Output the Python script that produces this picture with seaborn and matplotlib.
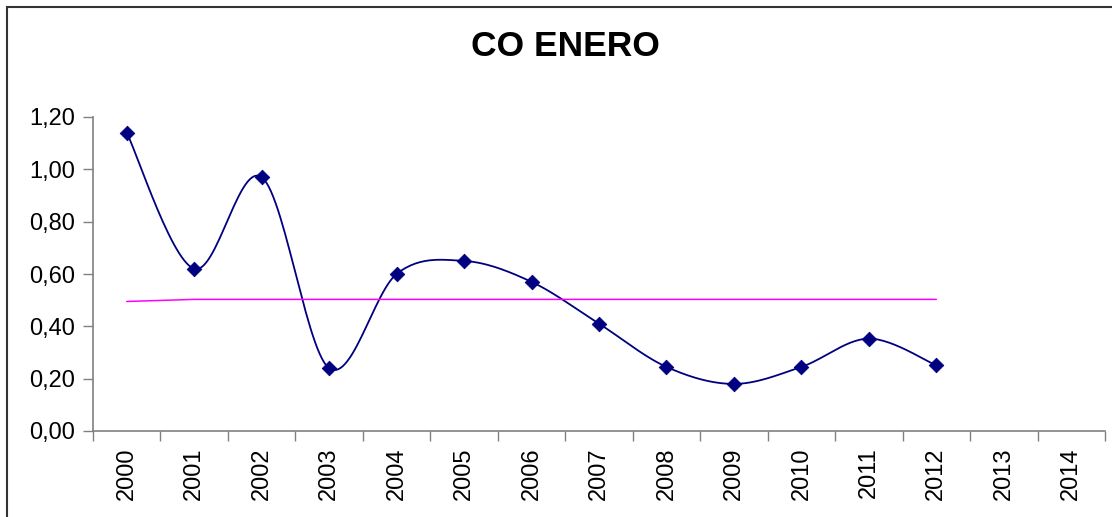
import numpy as np
import pandas as pd
import seaborn as sns
import matplotlib.pyplot as plt
from matplotlib.patches import Rectangle
from matplotlib.ticker import FuncFormatter

years = [str(y) for y in range(2000, 2015)]
co_years = years[:13]
co_values = [1.14, 0.62, 0.97, 0.24, 0.60, 0.65, 0.57, 0.41, 0.245, 0.18, 0.245, 0.353, 0.251]
limit_values = [0.495, 0.503, 0.503, 0.503, 0.503, 0.503, 0.503, 0.503, 0.503, 0.503, 0.503, 0.503, 0.503]


def smooth(xs, ys, steps=30):
    # excel-style smoothed line: bezier segments with catmull-rom control points
    xs = np.asarray(xs, float)
    ys = np.asarray(ys, float)
    px = np.concatenate([[xs[0]], xs, [xs[-1]]])
    py = np.concatenate([[ys[0]], ys, [ys[-1]]])
    outx, outy = [], []
    t = np.linspace(0, 1, steps)
    for i in range(1, len(px) - 2):
        p0 = np.array([px[i], py[i]])
        p3 = np.array([px[i + 1], py[i + 1]])
        c1 = p0 + (p3 - np.array([px[i - 1], py[i - 1]])) / 6
        c2 = p3 - (np.array([px[i + 2], py[i + 2]]) - p0) / 6
        b = ((1 - t) ** 3)[:, None] * p0 + (3 * (1 - t) ** 2 * t)[:, None] * c1 \
            + (3 * (1 - t) * t ** 2)[:, None] * c2 + (t ** 3)[:, None] * p3
        outx.extend(b[:, 0])
        outy.extend(b[:, 1])
    return outx, outy


sns.set_style("white")
plt.rcParams['font.family'] = ['Liberation Sans', 'DejaVu Sans']
plt.rcParams['text.color'] = 'black'
plt.rcParams['xtick.color'] = 'black'
plt.rcParams['ytick.color'] = 'black'

fig = plt.figure(figsize=(11.12, 5.17), dpi=100)
ax = fig.add_axes([93 / 1112, 1 - 431 / 517, (1105 - 93) / 1112, (431 - 117) / 517])

pos = np.arange(len(co_years))
sx, sy = smooth(pos, co_values)
curve = pd.DataFrame({"x": sx, "y": sy})
sns.lineplot(data=curve, x="x", y="y", ax=ax, color="#000080", linewidth=1.3, sort=False, estimator=None)

limit = pd.DataFrame({"x": pos, "y": limit_values})
sns.lineplot(data=limit, x="x", y="y", ax=ax, color="#FF00FF", linewidth=1.1, estimator=None)

pts = pd.DataFrame({"x": pos, "y": co_values})
sns.scatterplot(data=pts, x="x", y="y", ax=ax, marker="D", s=55, color="#000080",
                edgecolor="#000080", zorder=5)

ax.set_xlim(-0.5, len(years) - 0.5)
ax.set_ylim(0, 1.2)
ax.set_xticks(np.arange(len(years)))
ax.set_xticklabels(years, rotation=90, fontsize=17)
ax.set_xticks(np.arange(len(years) + 1) - 0.5, minor=True)
ax.tick_params(axis="x", which="major", length=0, pad=12, colors="black")
ax.tick_params(axis="x", which="minor", length=7, width=1, color="#808080", bottom=True)
ax.set_yticks(np.arange(0, 1.21, 0.2))
ax.yaxis.set_major_formatter(FuncFormatter(lambda v, p: f"{v:.2f}".replace(".", ",")))
ax.tick_params(axis="y", length=7, width=1, color="#808080", labelcolor="black",
               labelsize=17, pad=6, left=True)
ax.set_xlabel("")
ax.set_ylabel("")
for side in ["top", "right"]:
    ax.spines[side].set_visible(False)
for side in ["left", "bottom"]:
    ax.spines[side].set_color("#808080")
    ax.spines[side].set_linewidth(1.2)

fig.text(565 / 1112, 1 - 47 / 517, "CO ENERO", ha="center", va="center",
         fontsize=25.5, fontweight="bold", color="black")

fig.patches.append(Rectangle((7 / 1112, -0.1), 1.2, 1.1 - 7 / 517, transform=fig.transFigure,
                             fill=False, edgecolor="#333333", linewidth=1.5))

fig.savefig("out.png", dpi=100)
